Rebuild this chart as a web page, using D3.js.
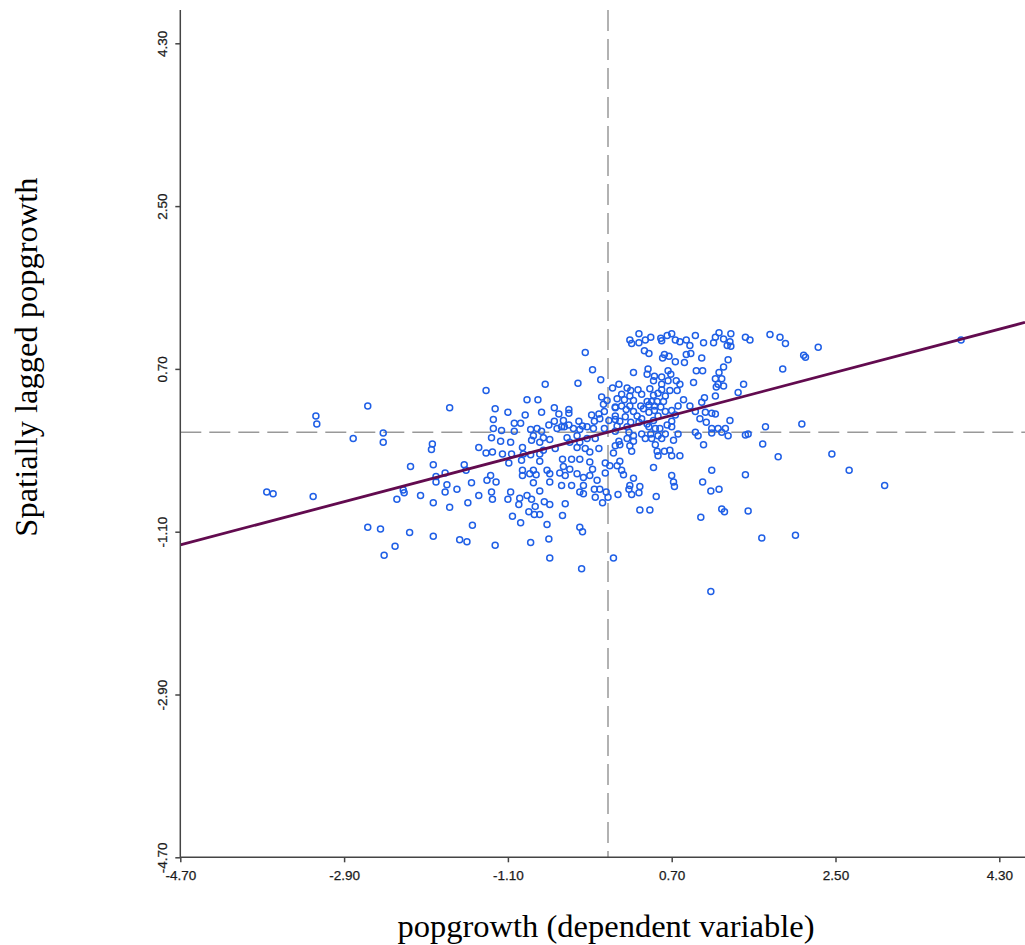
<!DOCTYPE html>
<html>
<head>
<meta charset="utf-8">
<script src="https://cdn.jsdelivr.net/npm/d3@7"></script>
<style>
   body { margin: 0; background: #fff; }
</style>
</head>
<body>
<div id="chart"></div>
<script>

// TICK VALUES ON BOTH AXES
var xTicks = [-4.70, -2.90, -1.10, 0.70, 2.50, 4.30];
var yTicks = [-4.70, -2.90, -1.10, 0.70, 2.50, 4.30];

// MORAN'S I (SLOPE OF THE FITTED LINE)
var moranSlope = 0.265;

// STANDARDISED POPGROWTH (X)
var popgrowth = [
   -1.34,-2.64,-1.74,-3.21,-3.20,-2.47,-2.80,-2.47,-1.93,-1.94,
   -1.42,-1.34,-2.17,-1.92,-1.58,-1.56,-1.79,-1.89,-1.89,-1.77,
   -1.50,-1.33,-1.66,-1.79,-2.25,-2.24,-2.32,-2.06,-1.92,-1.74,
   -1.54,-1.42,-3.75,-3.68,-3.24,-2.64,-2.50,-2.18,-1.92,-1.63,
   -1.55,-1.49,-2.34,-2.46,
   -0.25,-0.17,-0.08,-0.69,-0.33,0.12,0.05,-0.89,-0.77,-0.07,
   -0.01,-0.05,0.08,-1.24,-1.10,-0.91,-0.73,-0.59,-0.43,-0.43,
   -0.54,-0.10,-0.18,-0.04,-1.26,-1.03,-0.96,-0.65,-0.59,-0.49,
   -0.51,-0.43,-0.32,-0.28,-0.15,-0.09,0.01,0.08,-1.26,-1.17,
   -1.03,-0.85,-0.78,-0.73,-0.56,-0.48,-0.38,-0.31,-0.23,-0.16,
   -0.04,-1.28,-1.18,-1.07,-0.82,-0.71,-0.84,-0.75,-0.64,-0.45,
   -0.42,-0.34,-0.31,-0.23,-0.14,
   -1.27,-1.16,-1.06,-0.94,-0.93,-0.85,-0.75,-0.71,-0.58,-0.34,
   -0.25,-0.20,-0.10,0.06,-1.09,-0.95,-0.75,-0.50,-0.40,-0.31,
   -0.20,-0.03,0.10,-0.94,-0.82,-0.67,-0.49,-0.42,-0.17,0.02,
   -1.23,-1.29,-0.94,-0.86,-0.79,-0.64,-0.64,-0.53,-0.47,-0.34,
   -0.27,-0.20,-0.12,-0.03,-0.82,-0.51,-0.40,-0.27,-0.15,-0.09,
   -1.28,-1.07,-0.75,-0.31,-0.27,-0.02,0.11,-1.27,-1.10,-0.97,
   -0.89,-0.84,-0.70,-0.14,-0.06,0.00,-0.98,-0.80,-0.64,-0.47,
   -0.87,-0.81,-0.75,-1.05,-0.50,-0.96,-0.67,-0.31,-0.28,-0.65,
   -0.85,-1.24,-0.64,0.06,-0.29,
   0.34,0.24,0.26,0.34,0.41,0.47,0.58,0.65,0.70,0.74,
   0.79,0.86,0.90,0.96,1.05,1.16,1.18,1.22,1.27,1.35,
   1.34,1.31,1.35,1.51,1.56,0.59,0.40,0.45,0.62,0.67,
   0.60,0.86,0.91,1.03,0.74,0.84,1.32,0.44,0.28,0.43,
   0.66,0.69,0.97,1.04,1.22,1.27,0.51,0.59,1.18,1.25,
   0.75,0.50,0.59,0.66,0.79,0.94,1.21,1.27,1.49,
   0.21,0.25,0.33,0.46,0.59,0.68,0.76,1.19,1.43,0.15,
   0.24,0.37,0.50,0.55,0.63,1.06,1.18,0.10,0.18,0.28,
   0.43,0.48,0.54,0.61,0.83,1.03,0.15,0.24,0.36,0.45,
   0.51,0.58,0.77,0.90,0.08,0.20,0.28,0.39,0.45,0.51,
   0.63,0.70,0.96,1.07,1.14,0.08,0.19,0.32,0.37,0.55,
   0.74,1.01,1.18,0.13,0.25,0.34,0.43,0.50,0.65,0.70,
   1.08,1.34,0.10,0.21,0.45,0.52,0.57,0.70,1.14,1.21,
   1.29,0.08,0.23,0.28,0.37,0.47,0.55,0.63,0.77,0.96,
   0.99,1.14,1.25,1.32,1.51,1.54,0.12,0.21,0.28,0.41,
   0.48,0.59,0.72,0.13,0.24,0.52,1.05,0.26,0.54,
   0.62,0.68,0.55,0.70,0.79,0.13,0.15,0.17,0.50,
   1.14,1.51,0.28,0.70,0.72,0.73,1.04,0.24,0.35,0.23,
   1.22,1.13,0.34,0.26,0.53,0.35,0.46,1.25,1.28,1.54,1.02,
   0.08,
   1.78,1.89,1.95,2.31,2.15,2.17,1.92,3.88,1.73,2.13,
   1.70,1.87,2.46,2.65,3.04,1.69,2.06,1.13
];

// SPATIALLY LAGGED POPGROWTH (Y)
var laggedPopgrowth = [
   0.46,0.29,0.27,0.18,0.09,-0.01,-0.07,-0.11,-0.13,-0.19,
   -0.17,-0.23,-0.38,-0.36,-0.36,-0.42,-0.45,-0.49,-0.55,-0.58,
   -0.56,-0.53,-0.63,-0.66,-0.64,-0.67,-0.74,-0.70,-0.78,-0.83,
   -0.78,-0.70,-0.66,-0.68,-0.71,-1.05,-1.07,-1.11,-1.15,-1.19,
   -1.21,-1.03,-1.26,-1.36,
   0.88,0.69,0.58,0.53,0.54,0.53,0.49,0.36,0.36,0.39,
   0.35,0.31,0.28,0.26,0.22,0.19,0.22,0.27,0.25,0.21,
   0.20,0.20,0.19,0.23,0.14,0.10,0.10,0.08,0.12,0.13,
   0.06,0.08,0.12,0.07,0.12,0.15,0.13,0.14,0.04,0.02,
   0.01,0.03,0.04,0.01,0.04,0.06,0.04,0.03,0.06,0.04,
   0.04,-0.06,-0.10,-0.11,-0.04,-0.06,-0.09,-0.11,-0.08,-0.06,
   -0.11,-0.04,-0.11,-0.07,-0.07,
   -0.22,-0.24,-0.24,-0.17,-0.24,-0.25,-0.24,-0.20,-0.18,-0.17,
   -0.18,-0.22,-0.18,-0.23,-0.34,-0.31,-0.32,-0.30,-0.30,-0.30,
   -0.33,-0.34,-0.37,-0.42,-0.42,-0.42,-0.38,-0.41,-0.41,-0.37,
   -0.55,-0.48,-0.48,-0.46,-0.47,-0.46,-0.55,-0.45,-0.48,-0.46,
   -0.50,-0.48,-0.53,-0.45,-0.56,-0.59,-0.59,-0.59,-0.63,-0.63,
   -0.66,-0.66,-0.65,-0.66,-0.68,-0.66,-0.69,-0.74,-0.74,-0.73,
   -0.70,-0.74,-0.77,-0.72,-0.78,-0.72,-0.80,-0.82,-0.80,-0.79,
   -0.88,-0.91,-0.91,-0.93,-0.92,-1.00,-1.02,-1.05,-1.10,-1.18,
   -1.22,-1.25,-1.39,-1.39,-1.51,
   1.09,1.02,0.98,0.99,1.02,1.05,1.04,1.07,1.09,1.02,
   1.00,1.02,0.96,1.07,0.99,0.99,1.05,1.10,1.03,1.09,
   1.00,0.96,0.95,1.05,1.02,1.01,0.90,0.87,0.86,0.84,
   0.82,0.86,0.87,0.82,0.78,0.77,0.80,0.70,0.66,0.64,
   0.68,0.64,0.68,0.68,0.66,0.72,0.62,0.61,0.59,0.59,
   0.57,0.57,0.53,0.57,0.53,0.55,0.53,0.51,0.53,
   0.49,0.46,0.47,0.48,0.47,0.46,0.46,0.50,0.44,0.42,
   0.40,0.42,0.41,0.43,0.40,0.38,0.40,0.37,0.36,0.35,
   0.34,0.34,0.34,0.34,0.36,0.33,0.29,0.29,0.29,0.30,
   0.29,0.28,0.29,0.29,0.27,0.25,0.23,0.26,0.22,0.24,
   0.23,0.24,0.23,0.22,0.21,0.18,0.17,0.18,0.15,0.18,
   0.19,0.15,0.20,0.12,0.11,0.11,0.09,0.13,0.08,0.12,
   0.11,0.13,0.07,0.06,0.06,0.04,0.04,0.06,0.04,0.04,
   0.04,0.01,0.00,-0.04,-0.02,-0.02,-0.04,-0.02,-0.02,0.00,
   -0.04,-0.01,0.00,-0.04,-0.03,-0.02,-0.10,-0.07,-0.10,-0.07,
   -0.07,-0.07,-0.09,-0.14,-0.15,-0.14,-0.14,-0.21,-0.21,
   -0.21,-0.20,-0.26,-0.26,-0.26,-0.32,-0.42,-0.47,-0.39,
   -0.42,-0.47,-0.51,-0.48,-0.55,-0.60,-0.55,-0.59,-0.60,-0.63,
   -0.63,-0.65,-0.67,-0.69,-0.71,-0.86,-0.86,-0.85,-0.88,-0.87,-0.94,
   -0.15,
   1.08,1.05,0.98,0.94,0.85,0.83,0.70,1.02,0.06,0.09,
   -0.13,-0.27,-0.24,-0.42,-0.59,-1.17,-1.14,-1.76
];

// SETTINGS
var settings = {
   width: 1025,
   height: 945,
   axis: { color: '#444', size: 1.5 },
   dash: { color: '#999', size: 1.5, pattern: '21,8' },
   point: { color: '#1f5fe6', radius: 3, size: 1.5 },
   line: { color: '#620b4f', size: 2.8 },
   tickFont: '"Liberation Sans", Arial, sans-serif',
   titleFont: '"Liberation Serif", "Times New Roman", serif'
};

// SCALES -- TICKS ARE NOT AT THE EDGES, PLOT RUNS PAST 4.30
var xScale = d3.scaleLinear().domain([-4.7, 4.3]).range([180.3, 999.3]);
var yScale = d3.scaleLinear().domain([-4.7, 4.3]).range([857.3, 43.3]);

var xMin = -4.7, xMax = xScale.invert(settings.width);
var yMin = -4.7, yMax = yScale.invert(10);

var fmt = function (d) { return d.toFixed(2); };

var svg = d3.select('#chart').append('svg')
   .attr('width', settings.width)
   .attr('height', settings.height)
   .style('background', '#fff');

// MEAN LINES (DASHED)
svg.append('line')
   .attr('x1', xScale(0)).attr('x2', xScale(0))
   .attr('y1', yScale(yMax)).attr('y2', yScale(yMin))
   .attr('stroke', settings.dash.color)
   .attr('stroke-width', settings.dash.size)
   .attr('stroke-dasharray', settings.dash.pattern);

svg.append('line')
   .attr('x1', xScale(xMin)).attr('x2', xScale(xMax))
   .attr('y1', yScale(0)).attr('y2', yScale(0))
   .attr('stroke', settings.dash.color)
   .attr('stroke-width', settings.dash.size)
   .attr('stroke-dasharray', settings.dash.pattern);

// POINTS
var points = d3.zip(popgrowth, laggedPopgrowth);

svg.append('g').selectAll('circle').data(points).enter()
   .append('circle')
   .attr('cx', function (d) { return xScale(d[0]); })
   .attr('cy', function (d) { return yScale(d[1]); })
   .attr('r', settings.point.radius)
   .attr('fill', 'none')
   .attr('stroke', settings.point.color)
   .attr('stroke-width', settings.point.size);

// REGRESSION LINE
var fit = d3.line()
   .x(function (d) { return xScale(d); })
   .y(function (d) { return yScale(d * moranSlope); });

svg.append('path')
   .attr('d', fit([xMin, xMax]))
   .attr('fill', 'none')
   .attr('stroke', settings.line.color)
   .attr('stroke-width', settings.line.size);

// X AXIS
var xAxis = svg.append('g')
   .attr('transform', 'translate(0,' + yScale(yMin) + ')')
   .call(d3.axisBottom(xScale).tickValues(xTicks).tickFormat(fmt).tickSize(5).tickPadding(8));

// Y AXIS
var yAxis = svg.append('g')
   .attr('transform', 'translate(' + xScale(xMin) + ',0)')
   .call(d3.axisLeft(yScale).tickValues(yTicks).tickFormat(fmt).tickSize(5));

yAxis.selectAll('.tick text')
   .attr('x', 0).attr('dy', 0)
   .attr('text-anchor', 'middle')
   .attr('transform', 'translate(-13.5,0) rotate(-90)');

[xAxis, yAxis].forEach(function (g) {
   g.select('.domain').remove();
   g.selectAll('.tick line').attr('stroke', settings.axis.color).attr('stroke-width', settings.axis.size);
   g.selectAll('.tick text')
      .attr('fill', '#1a1a1a')
      .style('font-family', settings.tickFont)
      .style('font-size', '13.5px')
      .style('stroke', '#1a1a1a')
      .style('stroke-width', '0.25px');
});

// AXIS LINES RUN PAST THE LAST TICK
svg.append('line')
   .attr('x1', xScale(xMin)).attr('x2', xScale(xMax))
   .attr('y1', yScale(yMin)).attr('y2', yScale(yMin))
   .attr('stroke', settings.axis.color).attr('stroke-width', settings.axis.size);

svg.append('line')
   .attr('x1', xScale(xMin)).attr('x2', xScale(xMin))
   .attr('y1', yScale(yMax)).attr('y2', yScale(yMin))
   .attr('stroke', settings.axis.color).attr('stroke-width', settings.axis.size);

// AXIS TITLES
svg.append('text')
   .attr('x', 606).attr('y', 937)
   .attr('text-anchor', 'middle')
   .style('font-family', settings.titleFont)
   .style('font-size', '32.5px')
   .text('popgrowth (dependent variable)');

svg.append('text')
   .attr('transform', 'translate(37,357) rotate(-90)')
   .attr('text-anchor', 'middle')
   .style('font-family', settings.titleFont)
   .style('font-size', '32.5px')
   .text('Spatially lagged popgrowth');

</script>
</body>
</html>
